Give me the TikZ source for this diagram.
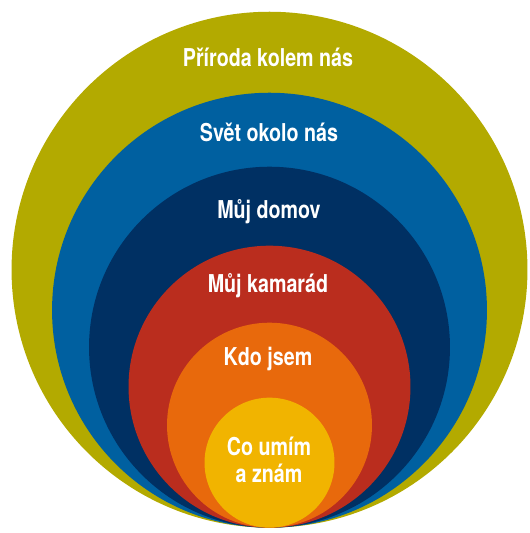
\documentclass[tikz,border=0pt]{standalone}
\usepackage{fontspec}
\setmainfont{TeX Gyre Heros}[FakeStretch=0.8]
\usepackage{tikz}

\definecolor{olivering}{RGB}{179,170,0}
\definecolor{bluering}{RGB}{0,96,160}
\definecolor{navyring}{RGB}{0,48,99}
\definecolor{redring}{RGB}{186,45,30}
\definecolor{orangering}{RGB}{232,105,12}
\definecolor{yellowring}{RGB}{241,180,0}

\begin{document}
\begin{tikzpicture}[x=0.02cm, y=-0.02cm,
    ring/.style={circle, inner sep=0pt, draw=none, anchor=south},
    lbl/.style={text=white, font=\bfseries\fontsize{14}{15}\selectfont, align=center, inner sep=0pt}]
            \useasboundingbox (0,0) rectangle (529,533);
            \coordinate (base) at (269.5,528);

            \node[ring, fill=olivering, minimum size=10.32cm] (priroda) at (base) {};
            \node[ring, fill=bluering, minimum size=8.70cm] (svet) at (base) {};
            \node[ring, fill=navyring, minimum size=7.22cm] (domov) at (base) {};
            \node[ring, fill=redring, minimum size=5.64cm] (kamarad) at (base) {};
            \node[ring, fill=orangering, minimum size=4.10cm] (jsem) at (base) {};
            \node[ring, fill=yellowring, minimum size=2.60cm] (umim) at (base) {};

            \node[lbl] (tpriroda) at (268,57) {Příroda kolem nás};
            \node[lbl] (tsvet) at (269,132) {Svět okolo nás};
            \node[lbl] (tdomov) at (269,212) {Můj domov};
            \node[lbl] (tkamarad) at (268,286) {Můj kamarád};
            \node[lbl] (tjsem) at (268,359) {Kdo jsem};
            \node[lbl] (tumim) at (269,460) {Co umím\\a znám};
        \end{tikzpicture}
\end{document}
